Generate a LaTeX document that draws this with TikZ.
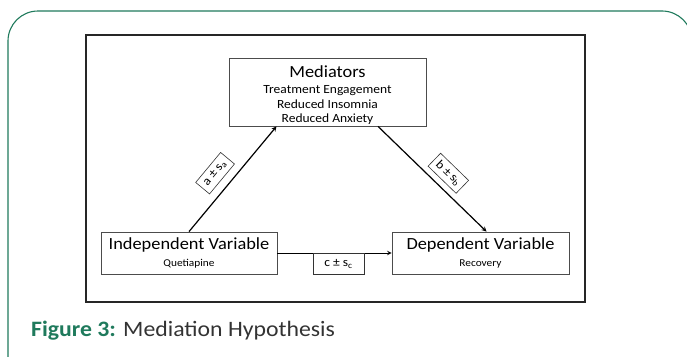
\documentclass[tikz,border=0pt]{standalone}
\usepackage{fontspec}
\setmainfont{Carlito}[FakeStretch=1.08]
\usetikzlibrary{calc}
\definecolor{figgreen}{RGB}{31,122,92}
\definecolor{capgray}{RGB}{51,51,51}
\tikzset{
	varbox/.style={draw=black!70,line width=.8,fill=white,align=center,inner sep=0pt},
	coefbox/.style={draw=black!80,line width=.6,fill=white,inner sep=0pt,minimum width=39,minimum height=18,font=\fontsize{12.5}{13}\selectfont},
	path/.style={->,>=stealth,line width=1.2}
}
\begin{document}
\begin{tikzpicture}[x=1pt,y=-1pt]% MEDIATION HYPOTHESIS
			\useasboundingbox (0,0) rectangle (687,356);
			\clip (0,0) rectangle (687,356);
			\draw[figgreen,line width=1.1,rounded corners=30] (8,390) rectangle (692,11);
			\draw[black!85,line width=1.5] (86,35) rectangle (585,302);
			\node[varbox,minimum width=197,minimum height=68,font=\fontsize{12.5}{14.5}\selectfont] (med) at (327.5,92)
			{\rule{0pt}{18pt}{\fontsize{17}{18}\selectfont Mediators}\\[2pt]
			Treatment Engagement\\
			Reduced Insomnia\\
			Reduced Anxiety};
			\node[varbox,minimum width=176,minimum height=42,font=\fontsize{10.5}{12}\selectfont] (indep) at (189,253)
			{{\fontsize{17}{18}\selectfont Independent Variable}\\[5.5pt]
			Quetiapine};
			\node[varbox,minimum width=177,minimum height=42,font=\fontsize{10.5}{12}\selectfont] (dep) at (480.5,253)
			{{\fontsize{17}{18}\selectfont Dependent Variable}\\[5.5pt]
			Recovery};
			\draw[path] (indep.north) -- ($(med.south)+(-51,0)$)
			node[coefbox,pos=.45,sloped,above=8pt] (a) {a ± s\textsubscript{a}};
			\draw[path] ($(med.south)+(50.5,0)$) -- ($(dep.north)+(6,0)$)
			node[coefbox,pos=.55,sloped,above=6pt] (b) {b ± s\textsubscript{b}};
			\draw[path,line width=1] (indep.east) -- (dep.west)
			node[coefbox,midway,below=0pt,xshift=4,minimum width=51,minimum height=21] (c) {c ± s\textsubscript{c}};
			\node[anchor=base west,text=capgray,font=\fontsize{22}{23}\selectfont,inner sep=0pt] (cap) at (31,336)
			{\textbf{\color{figgreen}Figure 3:} Mediation Hypothesis};
\end{tikzpicture}
\end{document}
